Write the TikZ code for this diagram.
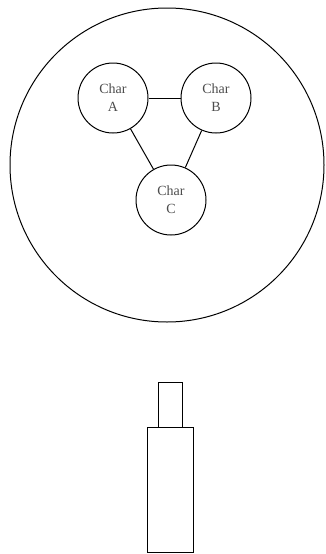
\documentclass[tikz,border=0pt]{standalone}
\usepackage{fontspec}
\setmainfont{Liberation Serif}
\begin{document}
\begin{tikzpicture}[x=1pt,y=-1pt,
  charnode/.style={circle,draw,line width=1pt,minimum size=70pt,inner sep=0pt,
    align=center,text=black!70,font=\fontsize{14}{18}\selectfont},
  link/.style={line width=1pt},
  part/.style={draw,line width=1pt}]
\useasboundingbox (0,0) rectangle (325,554);
\node[circle,draw,line width=1pt,minimum size=314pt,inner sep=0pt] (world) at (167,165) {};
\node[charnode] (A) at (113,98) {Char\\A};
\node[charnode] (B) at (216,98) {Char\\B};
\node[charnode] (C) at (171,200) {Char\\C};
\draw[link] (A) -- (B);
\draw[link] (A) -- (C);
\draw[link] (B) -- (C);
\node[part,minimum width=24pt,minimum height=45pt,inner sep=0pt] (top) at (170,404.5) {};
\node[part,minimum width=46pt,minimum height=125pt,inner sep=0pt] (body) at (170,489.5) {};
\end{tikzpicture}
\end{document}
